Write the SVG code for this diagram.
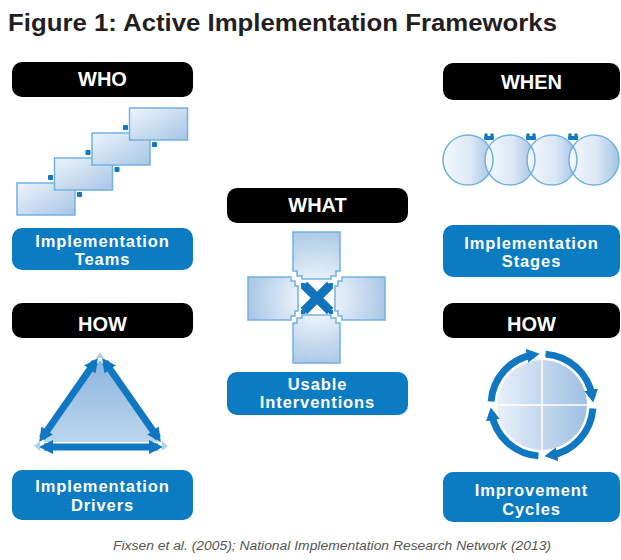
<svg xmlns="http://www.w3.org/2000/svg" width="621" height="560" viewBox="0 0 621 560">
<style>
  .hdr { fill: #000; }
  .hdrtxt { fill: #fff; font-family: "Liberation Sans", Arial, sans-serif; font-weight: bold; font-size: 20px; text-anchor: middle; }
  .lbl { fill: #0b7bc2; }
  .lbltxt { fill: #fff; font-family: "Liberation Sans", Arial, sans-serif; font-weight: bold; font-size: 16.5px; letter-spacing: 0.9px; text-anchor: middle; }
  .pale { stroke: #72b2e1; stroke-width: 1.5; }
  .blue { fill: #1078c2; }
</style>
<defs>
  <linearGradient id="gStair" x1="0" y1="0" x2="1" y2="1">
    <stop offset="0" stop-color="#eef4fb"/>
    <stop offset="1" stop-color="#a7c5e6"/>
  </linearGradient>
  <linearGradient id="gCirc" x1="0" y1="0" x2="1" y2="0">
    <stop offset="0" stop-color="#f4f8fc"/>
    <stop offset="0.55" stop-color="#dce8f5"/>
    <stop offset="1" stop-color="#a4c3e5"/>
  </linearGradient>
  <radialGradient id="gPuz" gradientUnits="userSpaceOnUse" cx="317" cy="298" r="75">
    <stop offset="0" stop-color="#ffffff"/>
    <stop offset="0.45" stop-color="#d6e5f4"/>
    <stop offset="1" stop-color="#a3c2e4"/>
  </radialGradient>
  <linearGradient id="gTri" x1="0" y1="0" x2="0" y2="1">
    <stop offset="0" stop-color="#8cb5de"/>
    <stop offset="1" stop-color="#bcd5ee"/>
  </linearGradient>
  <linearGradient id="gCyc" x1="0" y1="0" x2="1" y2="0">
    <stop offset="0" stop-color="#e9f0f9"/>
    <stop offset="1" stop-color="#9fc0e3"/>
  </linearGradient>
  <marker id="ahTri" markerUnits="userSpaceOnUse" markerWidth="16" markerHeight="16" refX="9" refY="8" orient="auto-start-reverse">
    <path d="M0,1 L14,8 L0,15 Z" fill="#1078c2"/>
  </marker>
  <marker id="ahCyc" markerUnits="userSpaceOnUse" markerWidth="16" markerHeight="16" refX="7" refY="8" orient="auto">
    <path d="M0,1 L13,8 L0,15 Z" fill="#1078c2"/>
  </marker>
</defs>

<rect width="621" height="560" fill="#fff"/>

<text id="title" x="8" y="31" font-family="'Liberation Sans', Arial, sans-serif" font-weight="bold" font-size="24" fill="#231f20" textLength="549" lengthAdjust="spacingAndGlyphs">Figure 1:  Active Implementation Frameworks</text>

<!-- WHO -->
<g id="who">
  <rect class="hdr" x="12" y="62" width="181" height="35" rx="10"/>
  <text class="hdrtxt" x="102.5" y="86">WHO</text>
</g>
<g id="teams-icon">
  <rect class="pale" x="17" y="183" width="58" height="32" fill="url(#gStair)"/>
  <rect class="pale" x="54.5" y="158" width="58" height="32" fill="url(#gStair)"/>
  <rect class="pale" x="92" y="133" width="58" height="32" fill="url(#gStair)"/>
  <rect class="pale" x="129.5" y="108" width="58" height="32" fill="url(#gStair)"/>
  <g class="blue">
    <rect x="48" y="175" width="5" height="5" rx="1"/>
    <rect x="77" y="192" width="5" height="5" rx="1"/>
    <rect x="85.5" y="150" width="5" height="5" rx="1"/>
    <rect x="114.5" y="167" width="5" height="5" rx="1"/>
    <rect x="123" y="125" width="5" height="5" rx="1"/>
    <rect x="152" y="142" width="5" height="5" rx="1"/>
  </g>
</g>
<g id="implementation-teams">
  <rect class="lbl" x="12" y="228" width="181" height="42" rx="10"/>
  <text class="lbltxt" x="102.5" y="247">Implementation</text>
  <text class="lbltxt" x="102.5" y="265">Teams</text>
</g>

<!-- WHEN -->
<g id="when">
  <rect class="hdr" x="443" y="63" width="177" height="37" rx="10"/>
  <text class="hdrtxt" x="531.5" y="89">WHEN</text>
</g>
<g id="stages-icon">
  <circle cx="468" cy="160" r="25" fill="url(#gCirc)"/>
  <circle cx="510" cy="160" r="25" fill="url(#gCirc)"/>
  <circle cx="552" cy="160" r="25" fill="url(#gCirc)"/>
  <circle cx="594" cy="160" r="25" fill="url(#gCirc)"/>
  <g fill="none" class="pale">
    <circle cx="468" cy="160" r="25"/>
    <circle cx="510" cy="160" r="25"/>
    <circle cx="552" cy="160" r="25"/>
    <circle cx="594" cy="160" r="25"/>
  </g>
  <g class="blue">
    <rect x="484" y="136" width="10" height="4" rx="1"/>
    <circle cx="486" cy="135" r="1.8"/><circle cx="492" cy="135" r="1.8"/>
    <rect x="526" y="136" width="10" height="4" rx="1"/>
    <circle cx="528" cy="135" r="1.8"/><circle cx="534" cy="135" r="1.8"/>
    <rect x="568" y="136" width="10" height="4" rx="1"/>
    <circle cx="570" cy="135" r="1.8"/><circle cx="576" cy="135" r="1.8"/>
  </g>
</g>
<g id="implementation-stages">
  <rect class="lbl" x="443" y="225" width="177" height="52" rx="10"/>
  <text class="lbltxt" x="531.5" y="249">Implementation</text>
  <text class="lbltxt" x="531.5" y="267">Stages</text>
</g>

<!-- WHAT -->
<g id="what">
  <rect class="hdr" x="227" y="188" width="181" height="35" rx="10"/>
  <text class="hdrtxt" x="317.5" y="212">WHAT</text>
</g>
<g id="interventions-icon">
  <g fill="url(#gPuz)" class="pale">
    <path d="M293,232 H340 V271 H336 V276 H331 V279 H302 V276 H297 V271 H293 Z"/>
    <path d="M293,363 H340 V323 H336 V318 H331 V315 H302 V318 H297 V323 H293 Z"/>
    <path d="M248,277 V320 H291 V316 H295 V311 H298 V286 H295 V281 H291 V277 Z"/>
    <path d="M385,277 V320 H342 V316 H338 V311 H335 V286 H338 V281 H342 V277 Z"/>
  </g>
  <g stroke="#1273bc" stroke-width="9" stroke-linecap="square">
    <line x1="307" y1="288" x2="327" y2="308"/>
    <line x1="327" y1="288" x2="307" y2="308"/>
  </g>
  <g class="blue">
    <rect x="301" y="283" width="4" height="4"/>
    <rect x="329" y="283" width="4" height="4"/>
    <rect x="301" y="310" width="4" height="4"/>
    <rect x="329" y="310" width="4" height="4"/>
  </g>
</g>
<g id="usable-interventions">
  <rect class="lbl" x="227" y="372" width="181" height="43" rx="10"/>
  <text class="lbltxt" x="317.5" y="390">Usable</text>
  <text class="lbltxt" x="317.5" y="408">Interventions</text>
</g>

<!-- HOW left -->
<g id="how-left">
  <rect class="hdr" x="12" y="303" width="181" height="35" rx="10"/>
  <text class="hdrtxt" x="102.5" y="331">HOW</text>
</g>
<g id="drivers-icon">
  <polygon points="100,360 43,442 160,442" fill="url(#gTri)"/>
  <g stroke="#1078c2" stroke-width="7" fill="none" marker-start="url(#ahTri)" marker-end="url(#ahTri)">
    <line x1="44" y1="447" x2="158" y2="447"/>
    <line x1="42" y1="438" x2="95" y2="362"/>
    <line x1="105" y1="362" x2="158" y2="438"/>
  </g>
  <g fill="#b3cfea">
    <polygon points="100,352 96,358 104,358"/>
    <polygon points="34,446 40,441 40,451"/>
    <polygon points="168,446 162,441 162,451"/>
  </g>
</g>
<g id="implementation-drivers">
  <rect class="lbl" x="12" y="470" width="181" height="50" rx="10"/>
  <text class="lbltxt" x="102.5" y="492">Implementation</text>
  <text class="lbltxt" x="102.5" y="511">Drivers</text>
</g>

<!-- HOW right -->
<g id="how-right">
  <rect class="hdr" x="443" y="303" width="177" height="35" rx="10"/>
  <text class="hdrtxt" x="531.5" y="331">HOW</text>
</g>
<g id="cycles-icon">
  <circle cx="542" cy="405" r="45" fill="url(#gCyc)"/>
  <g stroke="#fff" stroke-width="1.5">
    <line x1="497" y1="405" x2="587" y2="405"/>
    <line x1="542" y1="360" x2="542" y2="450"/>
  </g>
  <g stroke="#1078c2" stroke-width="7" fill="none" marker-end="url(#ahCyc)">
    <path d="M491.12,401.44 A51,51 0 0 1 533.67,354.7"/>
    <path d="M545.56,354.12 A51,51 0 0 1 592.3,396.67"/>
    <path d="M592.88,408.56 A51,51 0 0 1 550.33,455.3"/>
    <path d="M538.44,455.88 A51,51 0 0 1 491.7,413.33"/>
  </g>
</g>
<g id="improvement-cycles">
  <rect class="lbl" x="443" y="472" width="177" height="50" rx="10"/>
  <text class="lbltxt" x="531.5" y="496">Improvement</text>
  <text class="lbltxt" x="531.5" y="515">Cycles</text>
</g>

<text id="source" x="113" y="550" font-family="'Liberation Sans', Arial, sans-serif" font-style="italic" font-size="12.5" fill="#555" textLength="438" lengthAdjust="spacingAndGlyphs">Fixsen et al. (2005); National Implementation Research Network (2013)</text>
</svg>
